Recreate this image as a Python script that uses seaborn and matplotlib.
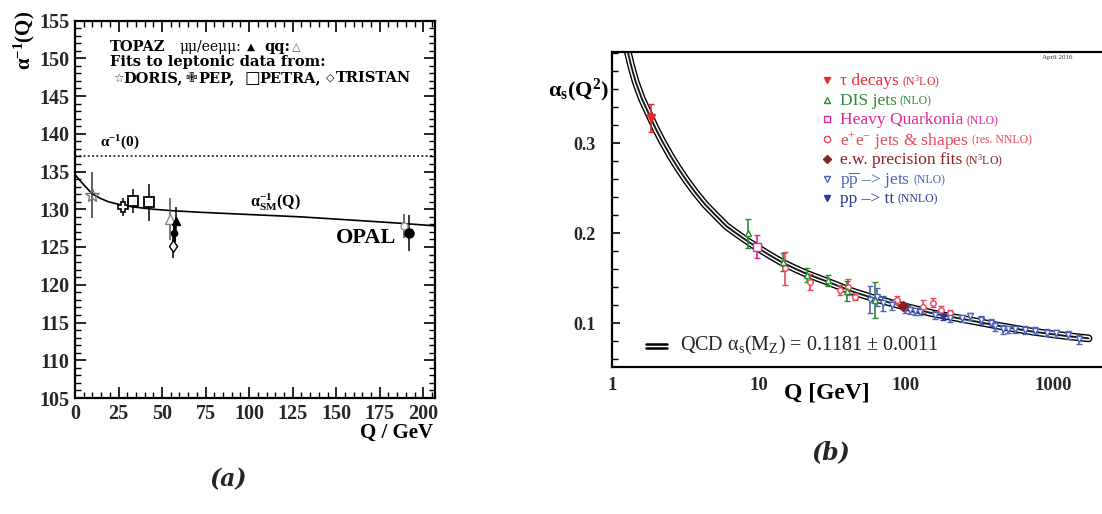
import numpy as np
import matplotlib
matplotlib.use("Agg")
import matplotlib.pyplot as plt
import seaborn as sns
import pandas as pd
from matplotlib.lines import Line2D
from matplotlib.ticker import MultipleLocator, FixedLocator, NullLocator, FixedFormatter

# ---------------- panel (a) data ----------------
a_curve_q = [0, 2.5, 4.8, 9.6, 14, 19.1, 27.7, 33.5, 45, 56.4, 71.8, 100, 129, 160, 186.6, 206.7]
a_curve_v = [134.6, 133.9, 133.3, 132.1, 131.5, 131.0, 130.5, 130.3, 130.0, 129.8, 129.6, 129.3,
             129.0, 128.55, 128.15, 127.8]
alpha_inv_0 = 137.036

doris_q, doris_v, doris_e = [9.6], [131.9], [3.0]
pep_q, pep_v, pep_e = [27.7], [130.3], [1.2]
petra_q, petra_v, petra_e = [33.5, 42.5], [131.1, 130.9], [1.6, 2.5]
tristan_q, tristan_v, tristan_e = [56.3], [125.1], [1.6]
topaz_qq_q, topaz_qq_v, topaz_qq_e = [54.8], [128.7], [2.8]
topaz_mm_q, topaz_mm_v, topaz_mm_e = [57.8], [128.5], [1.8]
topaz_ee_q, topaz_ee_v, topaz_ee_e = [56.9], [126.8], [1.1]
opal_q, opal_v, opal_e = [191.5], [126.9], [2.4]
opal2_q, opal2_v, opal2_e = [189.0], [127.8], [1.6]

a_xticks = [0, 25, 50, 75, 100, 125, 150, 175, 200]
a_yticks = [105, 110, 115, 120, 125, 130, 135, 140, 145, 150, 155]

# ---------------- panel (b) data ----------------
b_curve_q = [1.27, 1.35, 1.45, 1.6, 1.8, 2.0, 2.2, 2.5, 2.8, 3.2, 3.7, 4.3, 5.0, 6.0, 7.0, 8.4,
             10, 12, 14.6, 18, 21.1, 29.5, 43.8, 60, 91, 152.6, 258, 434, 733, 1236, 1745]
b_curve_a = [0.404, 0.386, 0.368, 0.349, 0.331, 0.315, 0.302, 0.286, 0.273, 0.259, 0.245,
             0.232, 0.221, 0.208, 0.200, 0.191, 0.183, 0.175, 0.167, 0.160, 0.155, 0.146,
             0.135, 0.128, 0.120, 0.111, 0.104, 0.097, 0.0907, 0.0859, 0.0833]

tau_q, tau_a, tau_e = [1.84], [0.328], [0.016]
dis_q = [8.4, 14.6, 21.1, 29.5, 39.5, 61.6]
dis_a = [0.200, 0.168, 0.1537, 0.148, 0.1363, 0.126]
dis_e = [0.016, 0.010, 0.008, 0.006, 0.011, 0.020]
hq_q, hq_a, hq_e = [9.63], [0.185], [0.013]
ee_q = [15.0, 22.3, 35.6, 40.4, 44.9, 86.5, 131.5, 153, 174, 199]
ee_a = [0.161, 0.146, 0.137, 0.1407, 0.1296, 0.126, 0.1185, 0.1226, 0.1148, 0.111]
ee_e = [0.018, 0.009, 0.006, 0.009, 0.004, 0.004, 0.007, 0.005, 0.005, 0.004]
ew_q, ew_a, ew_e = [95.8], [0.1192], [0.003]
ppbar_q = [56.8, 63.4, 70.1, 80.1, 98.6, 106, 114.8, 124, 157, 199, 239, 272, 326, 381,
           403, 458, 496, 551, 647, 760, 906, 1055, 1262, 1495]
ppbar_a = [0.126, 0.1296, 0.1222, 0.1203, 0.1160, 0.115, 0.1132, 0.113, 0.1093, 0.1055, 0.1055,
           0.108, 0.1037, 0.1007, 0.097, 0.0933, 0.0933, 0.0933, 0.0926, 0.0919, 0.0896,
           0.0889, 0.087, 0.0822]
ppbar_e = [0.015, 0.010, 0.008, 0.006, 0.005, 0.005, 0.004, 0.004, 0.004, 0.004, 0.004,
           0.004, 0.004, 0.004, 0.005, 0.005, 0.004, 0.004, 0.004, 0.004, 0.004, 0.004,
           0.004, 0.005]
tt_q, tt_a, tt_e = [179], [0.1074], [0.004]

b_xticks = [1, 10, 100, 1000]
b_xlabels = ["1", "10", "100", "1000"]
b_yticks = [0.1, 0.2, 0.3]

legend_main = ["τ decays", "DIS jets", "Heavy Quarkonia", "e$^{+}$e$^{-}$ jets & shapes",
               "e.w. precision fits", "p$\\overline{\\mathrm{p}}$ –> jets", "pp –> tt"]
legend_suffix = ["(N$^{3}$LO)", "(NLO)", "(NLO)", "(res. NNLO)", "(N$^{3}$LO)", "(NLO)", "(NNLO)"]

c_tau = "#e8262e"
c_dis = "#2f8a34"
c_hq = "#e0259c"
c_ee = "#ef4658"
c_ew = "#8a1f24"
c_pp = "#4d63b8"
c_tt = "#2b3b9c"

# ---------------- style ----------------
sns.set_theme(style="ticks")
plt.rcParams["font.family"] = ["Liberation Serif", "DejaVu Sans"]
plt.rcParams["mathtext.fontset"] = "custom"
plt.rcParams["mathtext.rm"] = "Liberation Serif"
plt.rcParams["mathtext.it"] = "Liberation Serif:italic"
plt.rcParams["mathtext.bf"] = "Liberation Serif:bold"
plt.rcParams["axes.edgecolor"] = "black"

W, H = 1102, 514
fig = plt.figure(figsize=(W / 100, H / 100), dpi=100)
fig.patch.set_facecolor("white")


def px_axes(l, t, r, b):
    return fig.add_axes([l / W, 1 - b / H, (r - l) / W, (b - t) / H])


def ftext(x, y, s, **kw):
    return fig.text(x / W, 1 - y / H, s, **kw)


# ================= panel (a) =================
ax = px_axes(75, 20.5, 435, 398)
ax.set_facecolor("white")
ax.set_xlim(0, 206.7)
ax.set_ylim(105, 155)

ax.axhline(alpha_inv_0, color="black", lw=1.1, ls=(0, (1.2, 1.6)))
dfa = pd.DataFrame({"Q": a_curve_q, "v": a_curve_v})
sns.lineplot(data=dfa, x="Q", y="v", ax=ax, color="black", lw=1.2, sort=True)

ekw = dict(ecolor="black", elinewidth=1.1, capsize=0, ls="none")
ax.errorbar(doris_q, doris_v, yerr=doris_e, fmt="*", ms=10, mfc="none", mec="#777777",
            mew=1.0, ecolor="#333333", elinewidth=1.1, ls="none")
ax.errorbar(pep_q, pep_v, yerr=pep_e, fmt="P", ms=7.5, mfc="white", mec="black", mew=1.2, **ekw)
ax.errorbar(petra_q, petra_v, yerr=petra_e, fmt="s", ms=7.5, mfc="white", mec="black", mew=1.3, **ekw)
ax.errorbar(topaz_qq_q, topaz_qq_v, yerr=topaz_qq_e, fmt="^", ms=7, mfc="white", mec="#888888",
            mew=1.0, ecolor="#555555", elinewidth=1.1, ls="none")
ax.errorbar(tristan_q, tristan_v, yerr=tristan_e, fmt="d", ms=6, mfc="white", mec="black", mew=1.0, **ekw)
ax.errorbar(topaz_ee_q, topaz_ee_v, yerr=topaz_ee_e, fmt="o", ms=4.5, mfc="black", mec="black",
            ecolor="black", elinewidth=2.2, ls="none")
ax.errorbar(topaz_mm_q, topaz_mm_v, yerr=topaz_mm_e, fmt="^", ms=6, mfc="black", mec="black", **ekw)
ax.errorbar(opal2_q, opal2_v, yerr=opal2_e, fmt="o", ms=5, mfc="white", mec="#999999",
            ecolor="#444444", elinewidth=1.1, ls="none")
ax.errorbar(opal_q, opal_v, yerr=opal_e, fmt="o", ms=6.5, mfc="black", mec="black", **ekw)

ax.xaxis.set_major_locator(FixedLocator(a_xticks))
ax.yaxis.set_major_locator(FixedLocator(a_yticks))
ax.xaxis.set_minor_locator(MultipleLocator(5))
ax.yaxis.set_minor_locator(MultipleLocator(1))
ax.tick_params(which="both", direction="in", top=True, right=True, color="black")
ax.tick_params(which="major", length=8, width=1.2, labelsize=14.5, pad=4)
ax.tick_params(which="minor", length=4, width=1.0)
for lab in ax.get_xticklabels() + ax.get_yticklabels():
    lab.set_fontweight("bold")
for s in ax.spines.values():
    s.set_linewidth(1.6)
    s.set_color("black")
ax.set_xlabel("")
ax.set_ylabel("")

bold = dict(fontweight="bold", color="black")
sym = ["DejaVu Sans"]
blk = dict(fontweight="bold", color="black", family="DejaVu Serif", fontsize=10.5,
           ha="left", va="center")
ftext(24, 11, "α$^{\\mathbf{-1}}$(Q)", rotation=90, ha="center", va="top", fontsize=15, **bold)
ftext(433, 433, "Q / GeV", ha="right", va="center", fontsize=15, **bold)

ftext(110, 47, "TOPAZ", **blk)
ftext(180, 47, "μμ/eeμμ:", ha="left", va="center", fontsize=10, color="black",
      family="DejaVu Serif")
ftext(251, 47, "▲", ha="center", va="center", fontsize=7.5, family=sym, color="black")
ftext(264, 47, "qq:", **blk)
ftext(296, 47, "△", ha="center", va="center", fontsize=8, family=sym, color="#555555")
ftext(110, 62, "Fits to leptonic data from:", **blk)
ftext(118, 78, "☆", ha="center", va="center", fontsize=8.5, family=sym, color="#444444")
ftext(123, 78, "DORIS,", **blk)
ftext(191, 78, "✙", ha="center", va="center", fontsize=10, family=sym, color="black")
ftext(198, 78, "PEP,", **blk)
ftext(252, 78, "□", ha="center", va="center", fontsize=12, family=sym, color="black")
ftext(259, 78, "PETRA,", **blk)
ftext(330, 78, "◇", ha="center", va="center", fontsize=8, family=sym, color="black")
ftext(336, 78, "TRISTAN", **blk)

ftext(100, 143, "α$^{\\mathbf{-1}}$(0)", ha="left", va="center", fontsize=11, **bold)
ftext(250, 202, "α$_{\\mathbf{SM}}^{\\mathbf{-1}}$(Q)", ha="left", va="center", fontsize=11.5, **bold)
ftext(396, 238, "OPAL", ha="right", va="center", fontsize=16, **bold)

# ================= panel (b) =================
bx = px_axes(612, 52.3, 1102, 367)
bx.set_facecolor("white")
bx.set_xscale("log")
bx.set_xlim(1, 2155)
bx.set_ylim(0.0515, 0.401)

dfb = pd.DataFrame({"Q": b_curve_q, "a": b_curve_a})
sns.lineplot(data=dfb, x="Q", y="a", ax=bx, color="black", lw=5.6, sort=True)
sns.lineplot(data=dfb, x="Q", y="a", ax=bx, color="white", lw=3.6, sort=True)
sns.lineplot(data=dfb, x="Q", y="a", ax=bx, color="#1a1a1a", lw=1.4, sort=True)


def ebar(q, a, e, color, marker, filled, ms=4.5, lw=1.2):
    bx.errorbar(q, a, yerr=e, fmt=marker, ms=ms, mfc=color if filled else "white",
                mec=color, mew=1.0, ecolor=color, elinewidth=lw, capsize=2.5,
                capthick=lw, ls="none")


ebar(ee_q, ee_a, ee_e, c_ee, "o", False, ms=4)
ebar(dis_q, dis_a, dis_e, c_dis, "^", False, ms=5)
ebar(hq_q, hq_a, hq_e, c_hq, "s", False, ms=5.5)
ebar(ppbar_q, ppbar_a, ppbar_e, c_pp, "v", False, ms=4)
ebar(tt_q, tt_a, tt_e, c_tt, "v", True, ms=4)
ebar(ew_q, ew_a, ew_e, c_ew, "D", True, ms=5)
ebar(tau_q, tau_a, tau_e, c_tau, "v", True, ms=6)

bx.xaxis.set_major_locator(FixedLocator(b_xticks))
bx.xaxis.set_major_formatter(FixedFormatter(b_xlabels))
bx.xaxis.set_minor_locator(NullLocator())
bx.yaxis.set_major_locator(FixedLocator(b_yticks))
bx.yaxis.set_minor_locator(MultipleLocator(0.02))
bx.tick_params(which="both", direction="in", color="black", top=False, right=False)
bx.tick_params(axis="y", which="major", length=6, width=1.2, labelsize=13, pad=12)
bx.tick_params(axis="y", which="minor", length=4, width=1.0)
bx.tick_params(axis="x", which="major", length=0, labelsize=13.5, pad=7)
for lab in bx.get_xticklabels() + bx.get_yticklabels():
    lab.set_fontweight("bold")
for name, s in bx.spines.items():
    s.set_linewidth(1.6)
    s.set_color("black")
bx.spines["right"].set_visible(False)
bx.set_xlabel("")
bx.set_ylabel("")

ftext(578, 90, "α$_{\\mathbf{s}}$(Q$^{\\mathbf{2}}$)", ha="center", va="center", fontsize=16, **bold)
ftext(827, 393, "Q [GeV]", ha="center", va="center", fontsize=17, **bold)
ftext(1057, 58, "April 2016", ha="center", va="center", fontsize=5, color="#333333")

# legend (key markers + coloured labels)
colors = [c_tau, c_dis, c_hq, c_ee, c_ew, c_pp, c_tt]
markers = ["v", "^", "s", "o", "D", "v", "v"]
filled = [True, False, False, False, True, False, True]
row_y = [79 + 19.7 * i for i in range(len(legend_main))]
main_texts = []
for y, m, c, f, lab in zip(row_y, markers, colors, filled, legend_main):
    fig.add_artist(Line2D([827 / W], [1 - (y + 1) / H], transform=fig.transFigure, ls="none",
                          marker=m, ms=4.5, mec=c, mfc=c if f else "white", mew=1.0))
    main_texts.append(ftext(840, y, lab, ha="left", va="center_baseline", fontsize=12.5, color=c))

fig.canvas.draw()
for t, c, suf, y in zip(main_texts, colors, legend_suffix, row_y):
    bb = t.get_window_extent()
    x1 = bb.x1 + 3
    fig.text(x1 / W, 1 - (y + 1) / H, suf, ha="left", va="center_baseline", fontsize=8.5, color=c)

# QCD band key
for yk in (343.5, 347.5):
    fig.add_artist(Line2D([646 / W, 667 / W], [1 - yk / H] * 2, transform=fig.transFigure,
                          color="black", lw=1.8))
ftext(680, 345, "QCD α$_{\\mathrm{s}}$(M$_{\\mathrm{Z}}$) = 0.1181 ± 0.0011",
      ha="left", va="center", fontsize=14.5, color="#222222")

# captions
ftext(228, 479, "(a)", ha="center", va="center", fontsize=17, family="DejaVu Serif",
      style="italic", fontweight="bold")
ftext(831, 452, "(b)", ha="center", va="center", fontsize=17, family="DejaVu Serif",
      style="italic", fontweight="bold")

fig.savefig("out.png", dpi=100, facecolor="white")
